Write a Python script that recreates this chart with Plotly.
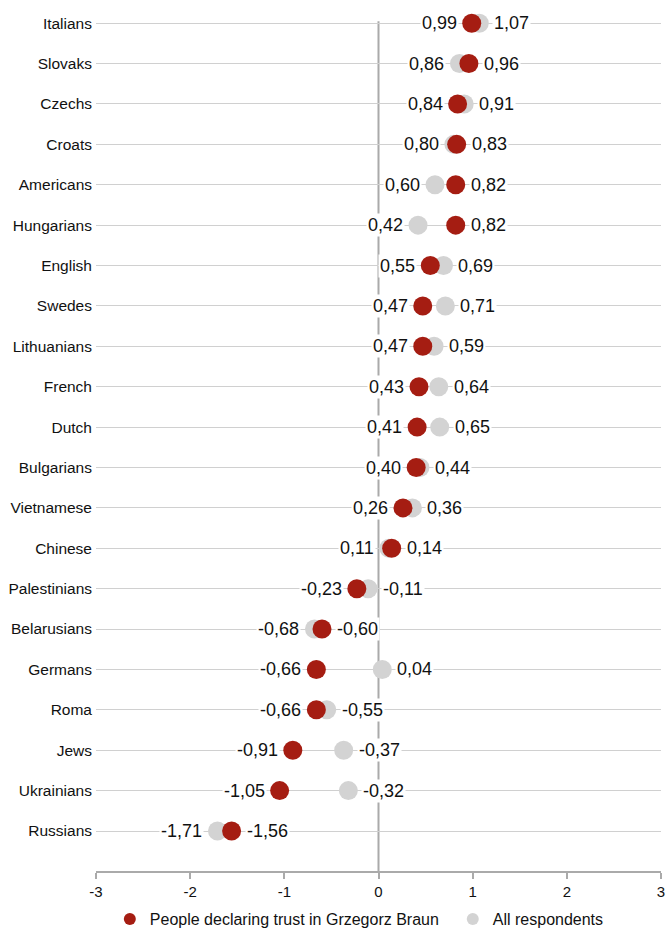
import plotly.graph_objects as go

categories = ["Italians", "Slovaks", "Czechs", "Croats", "Americans", "Hungarians", "English",
              "Swedes", "Lithuanians", "French", "Dutch", "Bulgarians", "Vietnamese", "Chinese",
              "Palestinians", "Belarusians", "Germans", "Roma", "Jews", "Ukrainians", "Russians"]
braun = [0.99, 0.96, 0.84, 0.83, 0.82, 0.82, 0.55, 0.47, 0.47, 0.43, 0.41, 0.40, 0.26, 0.14,
         -0.23, -0.60, -0.66, -0.66, -0.91, -1.05, -1.56]
all_resp = [1.07, 0.86, 0.91, 0.80, 0.60, 0.42, 0.69, 0.71, 0.59, 0.64, 0.65, 0.44, 0.36, 0.11,
            -0.11, -0.68, 0.04, -0.55, -0.37, -0.32, -1.71]
x_ticks = [-3, -2, -1, 0, 1, 2, 3]
x_tick_labels = ["-3", "-2", "-1", "0", "1", "2", "3"]

RED = "#a51d12"
GREY = "#d3d3d3"
FONT = "Liberation Sans, Arial, sans-serif"

idx = list(range(len(categories)))

fig = go.Figure()
fig.add_trace(go.Scatter(x=all_resp, y=idx, mode="markers", name="All respondents",
                         marker=dict(color=GREY, size=19), legendrank=2, hoverinfo="x+y"))
fig.add_trace(go.Scatter(x=braun, y=idx, mode="markers",
                         name="People declaring trust in Grzegorz Braun\u00a0\u00a0",
                         marker=dict(color=RED, size=19), legendrank=1, hoverinfo="x+y"))

def fmt(v):
    return f"{v:.2f}".replace(".", ",")

for i, (b, a) in enumerate(zip(braun, all_resp)):
    lo, hi = min(b, a), max(b, a)
    fig.add_annotation(x=lo, y=i, text=fmt(lo), showarrow=False, xanchor="right",
                       xshift=-13, bgcolor="white", borderpad=1,
                       font=dict(family=FONT, size=18, color="#111"))
    fig.add_annotation(x=hi, y=i, text=fmt(hi), showarrow=False, xanchor="left",
                       xshift=13, bgcolor="white", borderpad=1,
                       font=dict(family=FONT, size=18, color="#111"))

fig.add_shape(type="line", xref="x", yref="y", x0=0, x1=0, y0=-0.05, y1=20.99,
              line=dict(color="#aaaaaa", width=2), layer="below")

fig.update_layout(
    width=666, height=928,
    margin=dict(l=96, r=5, t=3, b=57, autoexpand=False),
    plot_bgcolor="white", paper_bgcolor="white",
    font=dict(family=FONT, size=14, color="#111"),
    showlegend=True,
    legend=dict(orientation="h", x=0.0245, xanchor="left", y=-0.0555, yanchor="middle",
                font=dict(family=FONT, size=16, color="#111"), itemsizing="constant",
                tracegroupgap=0),
    xaxis=dict(range=[-3, 3], tickvals=x_ticks, ticktext=x_tick_labels, showgrid=False,
               zeroline=False, showline=True, linecolor="#aaaaaa", linewidth=2,
               ticks="outside", ticklen=6, tickcolor="#aaaaaa", tickwidth=2,
               tickfont=dict(family=FONT, size=15, color="#111")),
    yaxis=dict(range=[20.99, -0.5], tickvals=idx, ticktext=categories, showgrid=True,
               gridcolor="#d0d0d0", gridwidth=1, zeroline=False, showline=False,
               ticks="", ticklabelstandoff=3,
               tickfont=dict(family=FONT, size=15.5, color="#111")),
)

fig.write_html("out.html", post_script="document.body.style.margin='0';",
               config={"displayModeBar": False})
